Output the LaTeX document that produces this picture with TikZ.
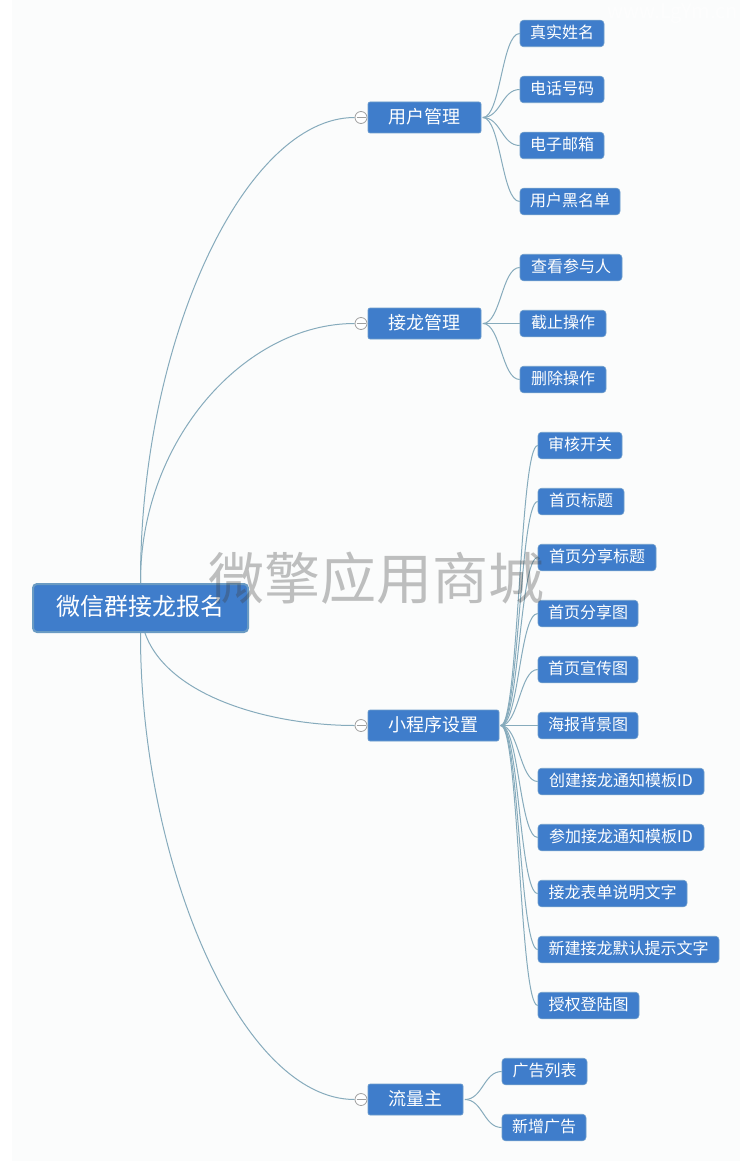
\documentclass[tikz,border=0pt]{standalone}
\usepackage{fontspec}
\setmainfont{Noto Sans CJK SC}
\usetikzlibrary{calc,backgrounds}
\definecolor{boxblue}{HTML}{3F7DCB}
\definecolor{boxedge}{HTML}{6E9DCB}
\definecolor{rootedge}{HTML}{6A9BC3}
\definecolor{wire}{HTML}{86ABBC}
\definecolor{paper}{HTML}{FBFCFC}
\tikzset{
  rootbox/.style={draw=rootedge,line width=2pt,fill=boxblue,rounded corners=4pt,text=white,font=\fontsize{24}{24}\selectfont,inner sep=0pt,minimum width=215pt,minimum height=48pt,text height=21pt,text depth=7pt},
  mainbox/.style={draw=boxedge,line width=.6pt,fill=boxblue,rounded corners=2pt,text=white,font=\fontsize{18}{18}\selectfont,inner sep=0pt,minimum height=31pt,text height=15.8pt,text depth=4.2pt},
  leafbox/.style={draw=boxedge,line width=.6pt,fill=boxblue,rounded corners=3.5pt,text=white,font=\fontsize{16}{16}\selectfont,inner sep=0pt,minimum height=26.5pt,text height=14pt,text depth=4pt},
  toggle/.style={circle,draw=gray!75,fill=white,line width=.8pt,minimum size=12pt,inner sep=0pt,
    path picture={\draw[gray!75,line width=.8pt] ([xshift=-4.5pt]path picture bounding box.center) -- ([xshift=4.5pt]path picture bounding box.center);}},
  wirel/.style={draw=wire,line width=1pt},
  rootwire/.style={draw=wire,line width=1pt}
}
\newcommand{\leafwire}[3]{\draw[wirel] (#1) .. controls +(#3,0) and ($(#2.west)+(-#3,0)$) .. (#2.west);}
\begin{document}
\begin{tikzpicture}[x=1pt,y=-1pt]
\useasboundingbox (0,0) rectangle (750,1161);

\node[rootbox] (root) at (140.5,608) {微信群接龙报名};

\node[toggle] (t1) at (361,117.5) {};
\node[toggle] (t2) at (361,323.5) {};
\node[toggle] (t3) at (361,725.5) {};
\node[toggle] (t4) at (361,1099.5) {};

\begin{scope}[on background layer]
\fill[white] (0,0) rectangle (750,1161);
\fill[paper] (12,0) rectangle (740,1161);
\draw[rootwire] (root.north) .. controls (140,340) and (245,117.5) .. (t1.west);
\draw[rootwire] (root.north) .. controls (140,440) and (245,323.5) .. (t2.west);
\draw[rootwire] (root.center) .. controls (142,690) and (262,725.5) .. (t3.west);
\draw[rootwire] (root.south) .. controls (140,860) and (240,1099.5) .. (t4.west);
\end{scope}

\node[mainbox,minimum width=113pt] (m1) at (424.5,117.5) {用户管理};
\node[mainbox,minimum width=113pt] (m2) at (424.5,323.5) {接龙管理};
\node[mainbox,minimum width=131pt] (m3) at (433.5,725.5) {小程序设置};
\node[mainbox,minimum width=95pt] (m4) at (415.5,1099.5) {流量主};

\coordinate (o1) at ($(m1.east)+(1.5,0)$);
\coordinate (o2) at ($(m2.east)+(1.5,0)$);
\coordinate (o3) at ($(m3.east)+(1.5,0)$);
\coordinate (o4) at ($(m4.east)+(1.5,0)$);

\node[leafbox,minimum width=84pt] (a1) at (562,33.5) {真实姓名};
\node[leafbox,minimum width=84pt] (a2) at (562,89.5) {电话号码};
\node[leafbox,minimum width=84pt] (a3) at (562,145.5) {电子邮箱};
\node[leafbox,minimum width=100pt] (a4) at (570,201.5) {用户黑名单};

\node[leafbox,minimum width=102pt] (b1) at (571,267.5) {查看参与人};
\node[leafbox,minimum width=86pt] (b2) at (563,323.5) {截止操作};
\node[leafbox,minimum width=86pt] (b3) at (563,379.5) {删除操作};

\node[leafbox,minimum width=84pt] (c1) at (580,445.5) {审核开关};
\node[leafbox,minimum width=86pt] (c2) at (581,501.5) {首页标题};
\node[leafbox,minimum width=118pt] (c3) at (597,557.5) {首页分享标题};
\node[leafbox,minimum width=100pt] (c4) at (588,613.5) {首页分享图};
\node[leafbox,minimum width=100pt] (c5) at (588,669.5) {首页宣传图};
\node[leafbox,minimum width=100pt] (c6) at (588,725.5) {海报背景图};
\node[leafbox,minimum width=166pt] (c7) at (621,781.5) {创建接龙通知模板ID};
\node[leafbox,minimum width=166pt] (c8) at (621,837.5) {参加接龙通知模板ID};
\node[leafbox,minimum width=149pt] (c9) at (612.5,893.5) {接龙表单说明文字};
\node[leafbox,minimum width=181pt] (c10) at (628.5,949.5) {新建接龙默认提示文字};
\node[leafbox,minimum width=101pt] (c11) at (588.5,1005.5) {授权登陆图};

\node[leafbox,minimum width=85pt] (d1) at (544.5,1071.5) {广告列表};
\node[leafbox,minimum width=84pt] (d2) at (544,1127.5) {新增广告};

\foreach \n in {a1,a2,a3,a4} {\leafwire{o1}{\n}{18}}
\foreach \n in {b1,b2,b3} {\leafwire{o2}{\n}{18}}
\foreach \n in {c1,c2,c3,c4,c5,c6,c7,c8,c9,c10,c11} {\leafwire{o3}{\n}{18}}
\foreach \n in {d1,d2} {\leafwire{o4}{\n}{18}}

\node[text=black!75,opacity=.33,font=\fontsize{56}{56}\selectfont,inner sep=0pt] (wm) at (376,578) {微擎应用商城};
\node[text=white,opacity=.6,font=\fontsize{20}{20}\selectfont,inner sep=0pt,anchor=east] (wm2) at (738,14) {www.LgYm.cn};
\end{tikzpicture}
\end{document}
